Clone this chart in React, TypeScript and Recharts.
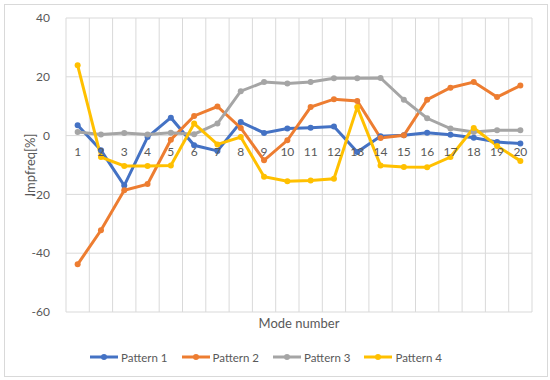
import React from 'react';
import { LineChart, Line, XAxis, YAxis, CartesianGrid, Legend } from 'recharts';

const modes = [1, 2, 3, 4, 5, 6, 7, 8, 9, 10, 11, 12, 13, 14, 15, 16, 17, 18, 19, 20];
const pattern1 = [3.5, -5, -17, -0.5, 6.1, -3.3, -5.2, 4.6, 0.9, 2.4, 2.7, 3.1, -5.6, -0.2, 0.1, 1.0, 0.3, -0.7, -2.2, -2.7];
const pattern2 = [-43.8, -32.2, -18.6, -16.5, -1.4, 6.7, 9.9, 2.6, -8.4, -1.6, 9.7, 12.4, 11.8, -0.8, 0.1, 12.2, 16.3, 18.2, 13.1, 17.0];
const pattern3 = [1.2, 0.4, 0.9, 0.4, 1.0, 0.5, 4.1, 15.1, 18.2, 17.7, 18.2, 19.5, 19.5, 19.6, 12.2, 5.9, 2.4, 1.2, 1.8, 1.8];
const pattern4 = [23.9, -7.3, -10.3, -10.3, -10.2, 4.1, -3.0, -0.5, -14.0, -15.5, -15.3, -14.7, 9.7, -10.2, -10.7, -10.8, -7.3, 2.6, -3.5, -8.6];
const yTicks = [-60, -40, -20, 0, 20, 40];

const seriesNames = ['Pattern 1', 'Pattern 2', 'Pattern 3', 'Pattern 4'];
const colors = ['#4472C4', '#ED7D31', '#A5A5A5', '#FFC000'];

const data = modes.map((m, i) => ({
  mode: m,
  p1: pattern1[i],
  p2: pattern2[i],
  p3: pattern3[i],
  p4: pattern4[i],
}));

const FONT = 'Lato, "Open Sans", sans-serif';
const TEXT = '#595959';
const PLOT_TOP = 18;
const PLOT_BOTTOM = 312;
const PLOT_W = 550 - 66 - 18;
const halfBand = PLOT_W / modes.length / 2;
// category labels sit on the zero line (Excel axis crossing at 0)
const zeroShift = ((0 - yTicks[0]) / (yTicks[yTicks.length - 1] - yTicks[0])) * (PLOT_BOTTOM - PLOT_TOP);

const ModeTick = ({ x, y, payload }: any) => (
  <text x={x} y={y - zeroShift + 20} textAnchor="middle" fill={TEXT} fontSize={12} fontFamily={FONT}>
    {payload.value}
  </text>
);

const YTitle = ({ viewBox }: any) => (
  <text
    x={30}
    y={viewBox.y + viewBox.height / 2}
    transform={`rotate(-90, 30, ${viewBox.y + viewBox.height / 2})`}
    textAnchor="middle"
    dominantBaseline="central"
    fill={TEXT}
    fontSize={13}
    fontFamily={FONT}
  >
    Impfreq[%]
  </text>
);

const LegendBox = () => (
  <div style={{ display: 'flex', justifyContent: 'center', alignItems: 'center', height: 20, gap: 14 }}>
    {seriesNames.map((n, i) => (
      <div key={n} style={{ display: 'flex', alignItems: 'center' }}>
        <svg width={28} height={8} style={{ marginRight: 3 }}>
          <line x1={0} y1={4} x2={28} y2={4} stroke={colors[i]} strokeWidth={3} />
          <circle cx={14} cy={4} r={3} fill={colors[i]} />
        </svg>
        <span style={{ fontFamily: FONT, fontSize: 11.5, color: TEXT }}>{n}</span>
      </div>
    ))}
  </div>
);

export default function App() {
  const keys = ['p1', 'p2', 'p3', 'p4'];
  return (
    <div style={{ position: 'absolute', left: 0, top: 0, width: 550, height: 380, background: '#fff' }}>
      <div
        style={{
          position: 'absolute',
          left: 4,
          top: 4,
          width: 542,
          height: 371,
          border: '1px solid #d9d9d9',
        }}
      />
      <LineChart
        width={550}
        height={380}
        data={data}
        margin={{ top: PLOT_TOP, right: 18, left: 0, bottom: 13 }}
        style={{ position: 'absolute', left: 0, top: 0 }}
      >
        <CartesianGrid
          stroke="#d9d9d9"
          strokeWidth={1}
          verticalCoordinatesGenerator={({ offset }: any) =>
            Array.from({ length: modes.length + 1 }, (_, i) => offset.left + (i * offset.width) / modes.length)
          }
        />
        <XAxis
          dataKey="mode"
          height={35}
          axisLine={false}
          tickLine={false}
          tickSize={0}
          tickMargin={0}
          tick={<ModeTick />}
          interval={0}
          padding={{ left: halfBand, right: halfBand }}
          label={{ value: 'Mode number', position: 'insideBottom', offset: 19, fill: TEXT, fontSize: 13, fontFamily: FONT }}
        />
        <YAxis
          width={66}
          domain={[-60, 40]}
          ticks={yTicks}
          axisLine={false}
          tickLine={false}
          tickMargin={10}
          tick={{ fill: TEXT, fontSize: 12, fontFamily: FONT }}
          label={<YTitle />}
        />
        <Legend verticalAlign="bottom" height={20} content={<LegendBox />} />
        {keys.map((k, i) => (
          <Line
            key={k}
            type="linear"
            dataKey={k}
            name={seriesNames[i]}
            stroke={colors[i]}
            strokeWidth={3}
            dot={{ r: 3, fill: colors[i], stroke: 'none' }}
            isAnimationActive={false}
          />
        ))}
      </LineChart>
    </div>
  );
}
